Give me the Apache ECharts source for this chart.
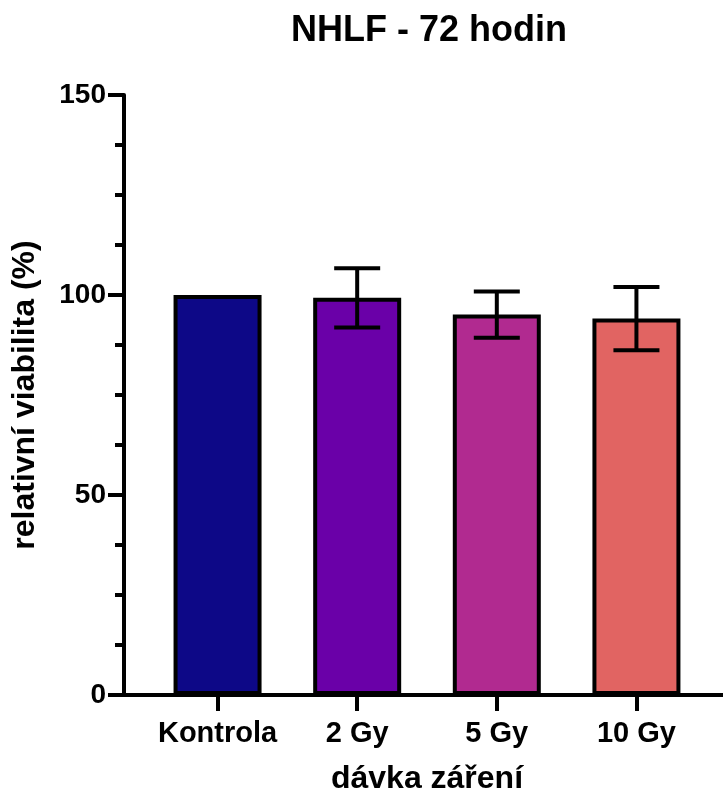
<!DOCTYPE html>
<html>
<head>
<meta charset="utf-8">
<script src="https://cdn.jsdelivr.net/npm/echarts@6/dist/echarts.min.js"></script>
<style>
  html, body { margin: 0; padding: 0; background: #fff; }
  #chart { width: 723px; height: 796px; }
</style>
</head>
<body>
<div id="chart"></div>
<script>
// data
var categories = ["Kontrola", "2 Gy", "5 Gy", "10 Gy"];
var positions = [1, 2, 3, 4];
var means = [100, 99.3, 95.1, 94.1];
var errors = [0, 7.4, 5.8, 7.9];
var barColors = ["#0d0887", "#6a00a8", "#b12a90", "#e16462"];

var font = "'Liberation Sans', Arial, sans-serif";

var barData = [];
var errData = [];
for (var i = 0; i < categories.length; i++) {
    barData.push({
        value: [positions[i], means[i]],
        itemStyle: { color: barColors[i] }
    });
    errData.push([positions[i], means[i] - errors[i], means[i] + errors[i], errors[i]]);
}

var myChart = echarts.init(document.getElementById("chart"));

myChart.setOption({
    animation: false,
    title: {
        text: "NHLF - 72 hodin",
        left: 424,
        top: 8,
        textAlign: "center",
        textStyle: { fontFamily: font, fontWeight: "bold", fontSize: 36, color: "#000" }
    },
    grid: { left: 124, right: 0, top: 95, bottom: 101, containLabel: false, outerBoundsMode: "none" },
    xAxis: {
        type: "value",
        min: 0.33,
        max: 4.62,
        name: "dávka záření",
        nameLocation: "middle",
        nameGap: 68,
        nameTextStyle: { fontFamily: font, fontWeight: "bold", fontSize: 32, color: "#000", padding: [0, 0, 0, 7] },
        axisLine: { show: true, lineStyle: { color: "#000", width: 4 } },
        axisTick: { show: true, customValues: positions, length: 16, lineStyle: { color: "#000", width: 4 } },
        axisLabel: {
            customValues: positions,
            margin: 24,
            fontFamily: font, fontWeight: "bold", fontSize: 29, color: "#000",
            formatter: function(v) { return categories[Math.round(v) - 1] || ""; }
        },
        splitLine: { show: false }
    },
    yAxis: {
        type: "value",
        min: 0,
        max: 150,
        interval: 50,
        name: "relativní viabilita (%)",
        nameLocation: "middle",
        nameRotate: 90,
        nameGap: 83,
        nameTextStyle: { fontFamily: font, fontWeight: "bold", fontSize: 32, color: "#000" },
        axisLine: { show: true, lineStyle: { color: "#000", width: 4 } },
        axisTick: { show: true, length: 16, lineStyle: { color: "#000", width: 4 } },
        minorTick: { show: true, splitNumber: 4, length: 9, lineStyle: { color: "#000", width: 4 } },
        axisLabel: { margin: 18, fontFamily: font, fontWeight: "bold", fontSize: 28, color: "#000" },
        splitLine: { show: false }
    },
    series: [{
        type: "bar",
        data: barData,
        barWidth: 88,
        itemStyle: { borderColor: "#000", borderWidth: 4 },
        z: 2
    }, {
        // error bars (mean ± err)
        type: "custom",
        data: errData,
        z: 3,
        renderItem: function(params, api) {
            if (api.value(3) === 0) return null;
            var x = api.value(0);
            var low = api.coord([x, api.value(1)]);
            var high = api.coord([x, api.value(2)]);
            var half = 23;
            var style = { stroke: "#000", lineWidth: 4 };
            return {
                type: "group",
                children: [
                    { type: "line", shape: { x1: low[0], y1: low[1], x2: high[0], y2: high[1] }, style: style },
                    { type: "line", shape: { x1: high[0] - half, y1: high[1], x2: high[0] + half, y2: high[1] }, style: style },
                    { type: "line", shape: { x1: low[0] - half, y1: low[1], x2: low[0] + half, y2: low[1] }, style: style }
                ]
            };
        }
    }]
});
</script>
</body>
</html>
